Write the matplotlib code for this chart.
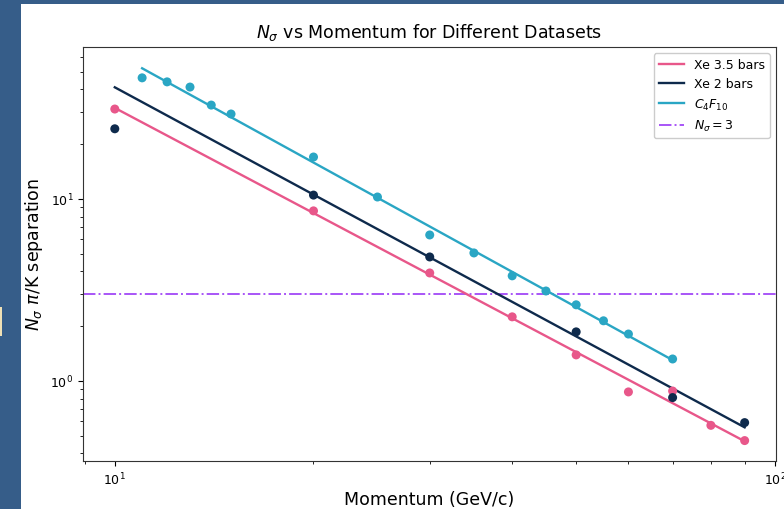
import numpy as np
import matplotlib
matplotlib.use("Agg")
import matplotlib.pyplot as plt
from matplotlib.patches import Rectangle

# ---- data ----
xe35_p = [10, 20, 30, 40, 50, 60, 70, 80, 90]
xe35_n = [31.2, 8.6, 3.92, 2.25, 1.39, 0.87, 0.88, 0.57, 0.47]

xe2_p = [10, 20, 30, 50, 70, 90]
xe2_n = [24.3, 10.5, 4.8, 1.86, 0.81, 0.59]

c4f10_p = [11, 12, 13, 14, 15, 20, 25, 30, 35, 40, 45, 50, 55, 60, 70]
c4f10_n = [46.3, 44.0, 41.2, 32.8, 29.3, 17.0, 10.25, 6.34, 5.05, 3.78, 3.12, 2.62, 2.14, 1.81, 1.32]

threshold = 3

labels = ["Xe 3.5 bars", "Xe 2 bars", "$C_4F_{10}$", "$N_\\sigma = 3$"]
colors = ["#E8578A", "#0E2A4C", "#2AA6C4", "#A855F7"]

# ---- figure ----
W, H = 784, 510
fig = plt.figure(figsize=(W / 100, H / 100), dpi=100)
fig.patch.set_facecolor("#365D89")
fig.add_artist(Rectangle((21 / W, 0), 1 - 21 / W, 1 - 5 / H, transform=fig.transFigure,
                         facecolor="white", edgecolor="none", zorder=0))
fig.add_artist(Rectangle((0, 1 - 337 / H), 2 / W, 29 / H, transform=fig.transFigure,
                         facecolor="#EFE0B5", edgecolor="none", zorder=0))

ax = fig.add_axes([83 / W, 1 - 462 / H, (776 - 83) / W, (462 - 48) / H])


def fit_line(p, n, p_fit=None, n_fit=None):
    pf = p if p_fit is None else p_fit
    nf = n if n_fit is None else n_fit
    b, a = np.polyfit(np.log10(pf), np.log10(nf), 1)
    xs = np.array([min(p), max(p)])
    return xs, 10 ** (a + b * np.log10(xs))


series = [
    (xe35_p, xe35_n, None, None),
    (xe2_p, xe2_n, xe2_p[1:], xe2_n[1:]),
    (c4f10_p, c4f10_n, None, None),
]
for (p, n, pf, nf), lab, col in zip(series, labels[:3], colors[:3]):
    xs, ys = fit_line(p, n, pf, nf)
    ax.plot(xs, ys, color=col, lw=1.7, label=lab, zorder=3)
    ax.scatter(p, n, color=col, s=42, zorder=4, edgecolors="none")

ax.axhline(threshold, color=colors[3], lw=1.4, ls="-.", label=labels[3], zorder=2)

ax.set_xscale("log")
ax.set_yscale("log")
ax.set_xlim(8.95, 100.4)
ax.set_ylim(0.363, 68.4)

ax.set_title("$N_\\sigma$ vs Momentum for Different Datasets", fontsize=12.5, pad=7)
ax.set_xlabel("Momentum (GeV/c)", fontsize=12.5, labelpad=2)
ax.set_ylabel("$N_\\sigma$ $\\pi$/K separation", fontsize=12.5)
ax.tick_params(labelsize=9)
for s in ax.spines.values():
    s.set_color("#333333")

ax.legend(loc="upper right", fontsize=9, framealpha=1)

fig.savefig("out.png", dpi=100)
